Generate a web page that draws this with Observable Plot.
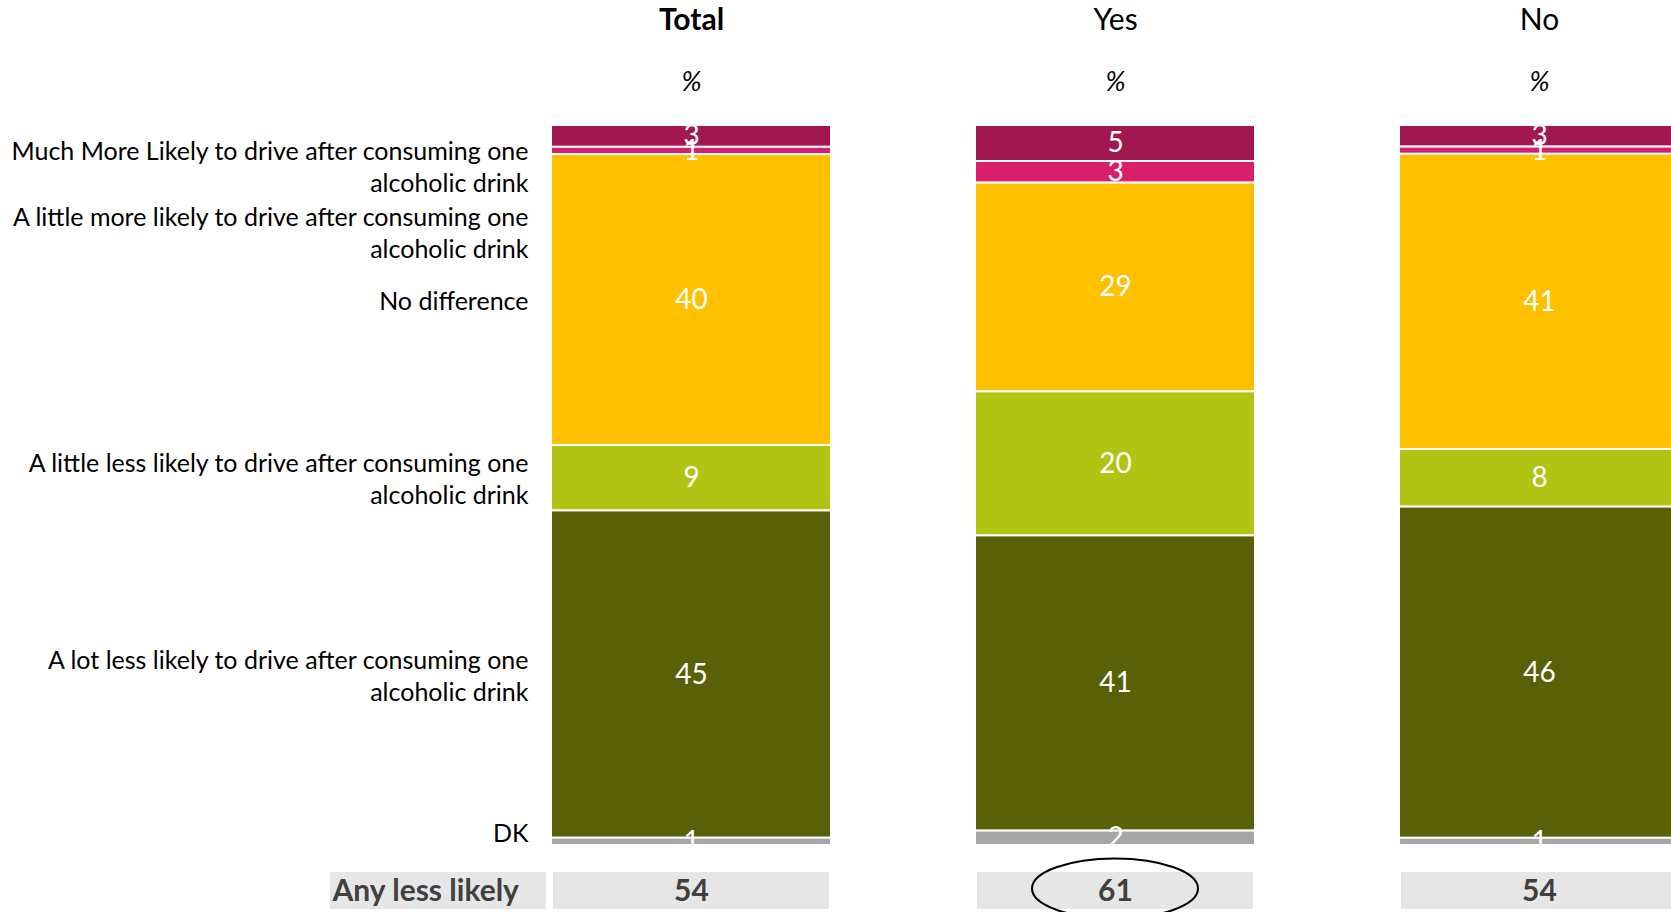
<!DOCTYPE html>
<html>
<head>
<meta charset="utf-8">
<script src="https://cdn.jsdelivr.net/npm/d3@7"></script>
<script src="https://cdn.jsdelivr.net/npm/@observablehq/plot@0.6"></script>
<style>
  html, body { margin: 0; padding: 0; background: white; overflow: hidden; }
  #chart svg { display: block; max-width: none; }
</style>
</head>
<body>
<div id="chart"></div>
<script>
// ---- Data ----
const columns = ["Total", "Yes", "No"];
const responses = [
  "Much More Likely to drive after consuming one alcoholic drink",
  "A little more likely to drive after consuming one alcoholic drink",
  "No difference",
  "A little less likely to drive after consuming one alcoholic drink",
  "A lot less likely to drive after consuming one alcoholic drink",
  "DK"
];
const totalValues = [3, 1, 40, 9, 45, 1];
const yesValues = [5, 3, 29, 20, 41, 2];
const noValues = [3, 1, 41, 8, 46, 1];
const summaryLabel = "Any less likely";
const anyLessLikely = [54, 61, 54];
const highlighted = "Yes";

// ---- Styles ----
const palette = ["#A1174F", "#D81F6B", "#FFC000", "#B0C414", "#586008", "#A6A6A6"];

// ---- Build table ----
const seriesByColumn = {Total: totalValues, Yes: yesValues, No: noValues};
const rows = columns.flatMap(c => responses.map((r, i) => ({column: c, response: r, value: seriesByColumn[c][i]})));
const summary = columns.map((c, i) => ({column: c, value: anyLessLikely[i]}));

// ---- Layout ----
const W = 1671, H = 912;
const frameTop = 125, frameBottom = 845;
const frameH = frameBottom - frameTop;
const toY = px => (px - frameTop) / frameH; // pixel -> normalized share
const rowTop = toY(872), rowBottom = toY(909), rowMid = (rowTop + rowBottom) / 2;
const labelFont = 25, labelLine = 32;

// row labels placed beside the Total column segments, de-overlapped
const tot = d3.sum(totalValues);
let acc = 0;
const labels = responses.map((r, i) => {
  const mid = (acc + totalValues[i] / 2) / tot;
  acc += totalValues[i];
  const text = r.replace(" alcoholic drink", "\nalcoholic drink");
  const lines = text.split("\n").length;
  return {text, lines, px: frameTop + mid * frameH};
});
let prevBottom = frameTop + 8;
for (const l of labels) {
  const half = l.lines * labelLine / 2;
  l.px = Math.max(l.px, prevBottom + half);
  prevBottom = l.px + half + 2;
}
let nextTop = frameBottom;
for (let i = labels.length - 1; i >= 0; --i) {
  const l = labels[i];
  const half = l.lines * labelLine / 2 - (l.lines === 1 ? 2 : 0);
  l.px = Math.min(l.px, nextTop - half);
  nextTop = l.px - half - 2;
}
labels.forEach(l => l.y = toY(l.px));

const stackOpts = {x: "column", y: "value", z: "response", order: responses, offset: "normalize"};

const chart = Plot.plot({
  width: W,
  height: H,
  marginTop: frameTop,
  marginBottom: H - frameBottom,
  marginLeft: 551,
  marginRight: 0,
  x: {domain: columns, range: [551, 1679], paddingInner: 0.34, paddingOuter: 0, axis: null},
  y: {domain: [0, 1], range: [frameTop, frameBottom], axis: null},
  color: {domain: responses, range: palette},
  style: {fontFamily: "Lato, 'Open Sans', sans-serif", overflow: "hidden", background: "white", maxWidth: "none"},
  marks: [
    Plot.barY(rows, Plot.stackY({...stackOpts, fill: "response", stroke: "white", strokeWidth: 2})),
    Plot.text(rows, Plot.stackY({...stackOpts, text: d => String(d.value), fill: "white", fontSize: 28, clip: true})),
    // column headers
    Plot.text(columns.filter(c => c === "Total"), {x: d => d, text: d => d, frameAnchor: "top", lineAnchor: "middle", dy: -105, fontSize: 30, fontWeight: "bold", fill: "black"}),
    Plot.text(columns.filter(c => c !== "Total"), {x: d => d, text: d => d, frameAnchor: "top", lineAnchor: "middle", dy: -105, fontSize: 30, fill: "black"}),
    Plot.text(columns, {x: d => d, text: () => "%", frameAnchor: "top", lineAnchor: "middle", dy: -43, fontSize: 27, fontStyle: "italic", fill: "black"}),
    // row labels
    Plot.text(labels, {x: () => "Total", y: "y", text: "text", textAnchor: "end", dx: -163, fontSize: labelFont, lineHeight: labelLine / labelFont, fill: "black"}),
    // summary row
    Plot.barY(summary, {x: "column", y1: () => rowTop, y2: () => rowBottom, fill: "#E6E6E6", insetLeft: 2, insetRight: 2}),
    Plot.text(summary, {x: "column", y: () => rowMid, text: d => String(d.value), fontSize: 30, fontWeight: "bold", fill: "#404040"}),
    Plot.barY([summaryLabel], {x: () => "Total", y1: () => rowTop, y2: () => rowBottom, fill: "#E6E6E6", dx: -221, insetRight: 64}),
    Plot.text([summaryLabel], {x: () => "Total", y: () => rowMid, text: d => d, textAnchor: "start", dx: -359, fontSize: 30, fontWeight: "bold", fill: "#404040"})
  ]
});

// highlight ellipse around the "Yes" summary value
const xs = chart.scale("x"), ys = chart.scale("y");
d3.select(chart).append("ellipse")
  .attr("cx", xs.apply(highlighted) + xs.bandwidth / 2)
  .attr("cy", ys.apply(rowMid) - 2)
  .attr("rx", 83).attr("ry", 30)
  .attr("fill", "none").attr("stroke", "black").attr("stroke-width", 2);

document.getElementById("chart").append(chart);
</script>
</body>
</html>
